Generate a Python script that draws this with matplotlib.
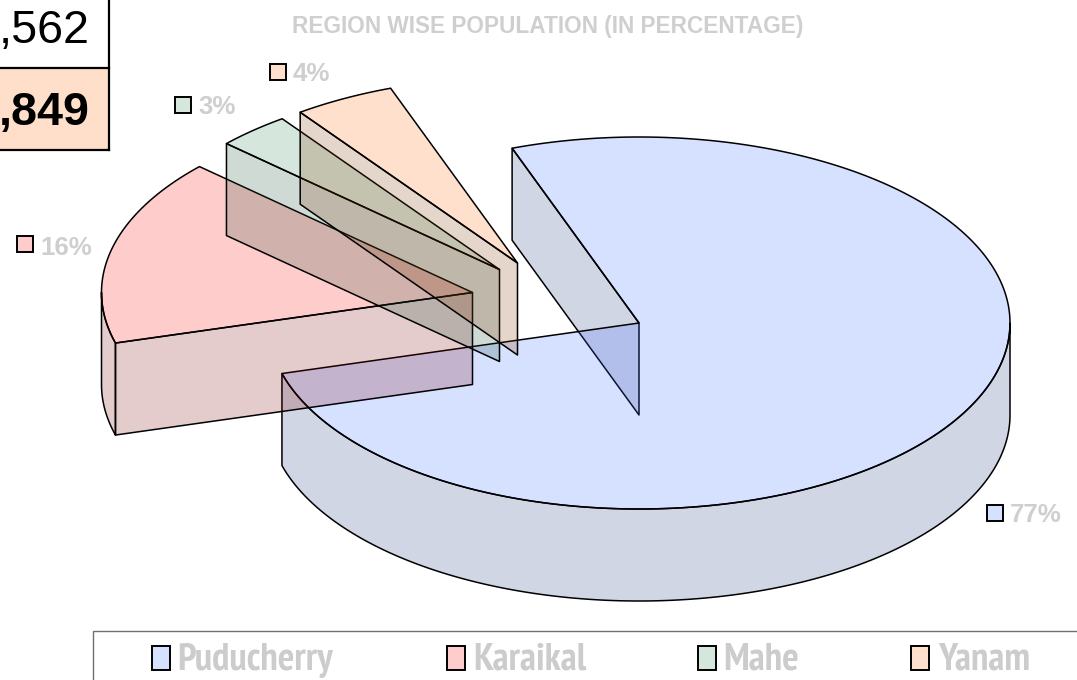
import numpy as np
import matplotlib
matplotlib.use("Agg")
import matplotlib.pyplot as plt
from matplotlib.patches import Polygon, Rectangle

# ---- data ----
regions = ["Puducherry", "Karaikal", "Mahe", "Yanam"]
shares = [76.1, 16.2, 3.2, 4.4]
pct_labels = ["77%", "16%", "3%", "4%"]  # printed labels
title = "REGION WISE POPULATION (IN PERCENTAGE)"
box_top = ",562"
box_bottom = ",849"

# ---- style / layout ----
W, H = 1077, 680
top_cols = ["#3366FF", "#FF0000", "#2E8B57", "#FF6600"]
wall_cols = ["#1A3380", "#7F0000", "#174630", "#7F3300"]
ALPHA = 0.2
apex = [(639, 323), (472.5, 292.5), (499.5, 269.5), (517.5, 263)]
RX, RY, DEPTH = 371, 186, 92
START = -20.0
GREY = "#CFCFCF"
LEG_GREY = "#CCCCCC"
LW = 1.1
FONT = ["Liberation Sans", "DejaVu Sans"]
NARROW = ["PT Sans Narrow", "Archivo Narrow", "Liberation Sans", "DejaVu Sans"]
label_swatch = [(987, 505), (17, 236), (175, 97), (270, 64)]
label_text = [(1010, 522), (40, 255), (198, 114), (293, 81)]
legend_swatch_x = [152, 447, 698, 911]
legend_text_x = [177, 473, 723, 938]

fig = plt.figure(figsize=(W / 100, H / 100), dpi=100)
ax = fig.add_axes([0, 0, 1, 1])
ax.set_xlim(0, W)
ax.set_ylim(H, 0)
ax.axis("off")


def rim(c, a):
    """Point on the top rim, angle in degrees clockwise from 12 o'clock."""
    r = np.radians(a)
    return np.column_stack([c[0] + RX * np.sin(r), c[1] - RY * np.cos(r)])


def face(pts, col, z):
    ax.add_patch(Polygon(pts, closed=True, facecolor=matplotlib.colors.to_rgba(col, ALPHA),
                         edgecolor="black", linewidth=LW, joinstyle="round", zorder=z))


down = np.array([0, DEPTH])
sweeps = 360 * np.array(shares) / np.sum(shares)
a0 = START
for i, sw in enumerate(sweeps):
    a1 = a0 + sw
    c = apex[i]
    cpt = np.array([c], dtype=float)
    z = 2 + i
    # radial wall at the start edge, when it faces the viewer
    if 180 < (a0 % 360) < 360:
        p = rim(c, a0)
        face(np.vstack([cpt, p, p + down, cpt + down]), wall_cols[i], z)
    if 0 < (a1 % 360) < 180:
        p = rim(c, a1)
        face(np.vstack([cpt, p, p + down, cpt + down]), wall_cols[i], z)
    # outer wall: the part of the rim on the near half of the ellipse
    for k in (0, 1):
        lo, hi = max(a0, 90 + 360 * k), min(a1, 270 + 360 * k)
        if hi > lo:
            arc = rim(c, np.linspace(lo, hi, 200))
            face(np.vstack([arc, arc[::-1] + down]), wall_cols[i], z)
    # top face
    face(np.vstack([cpt, rim(c, np.linspace(a0, a1, 400))]), top_cols[i], z)
    a0 = a1


def swatch(x, y, w, h, col):
    ax.add_patch(Rectangle((x, y), w, h, facecolor=matplotlib.colors.to_rgba(col, ALPHA),
                           edgecolor="black", linewidth=1.4, zorder=10))


# data labels
for i, lab in enumerate(pct_labels):
    sx, sy = label_swatch[i]
    swatch(sx, sy, 16, 16, top_cols[i])
    tx, ty = label_text[i]
    ax.text(tx, ty, lab, family=FONT, fontweight="bold", fontsize=18.6, color=GREY,
            ha="left", va="baseline", zorder=10)

# title
ax.text(548, 33.5, title, family=FONT, fontweight="bold", fontsize=16.3, color=GREY,
        ha="center", va="baseline", zorder=10)

# clipped table, top left
ax.add_patch(Rectangle((-5, 68), 114, 82, facecolor="#FFDFC9", edgecolor="none", zorder=9))
ax.plot([109, 109], [-2, 150], color="black", lw=1.6, zorder=11, solid_capstyle="projecting")
ax.plot([-2, 109], [68, 68], color="black", lw=1.6, zorder=11)
ax.plot([-2, 109], [150, 150], color="black", lw=1.6, zorder=11)
ax.text(90, 43, box_top, family=FONT, fontsize=33.6, color="black",
        ha="right", va="baseline", zorder=12)
ax.text(90, 125, box_bottom, family=FONT, fontweight="bold", fontsize=33.6, color="black",
        ha="right", va="baseline", zorder=12)

# legend
ax.plot([W + 2, 93, 93], [631, 631, H + 2], color="#707070", lw=1.0, zorder=9)
for i, name in enumerate(regions):
    swatch(legend_swatch_x[i], 646, 18, 24, top_cols[i])
    ax.text(legend_text_x[i], 670, name, family=NARROW, fontweight="bold", fontsize=28,
            color=LEG_GREY, ha="left", va="baseline", zorder=10)

fig.savefig("out.png", dpi=100)
